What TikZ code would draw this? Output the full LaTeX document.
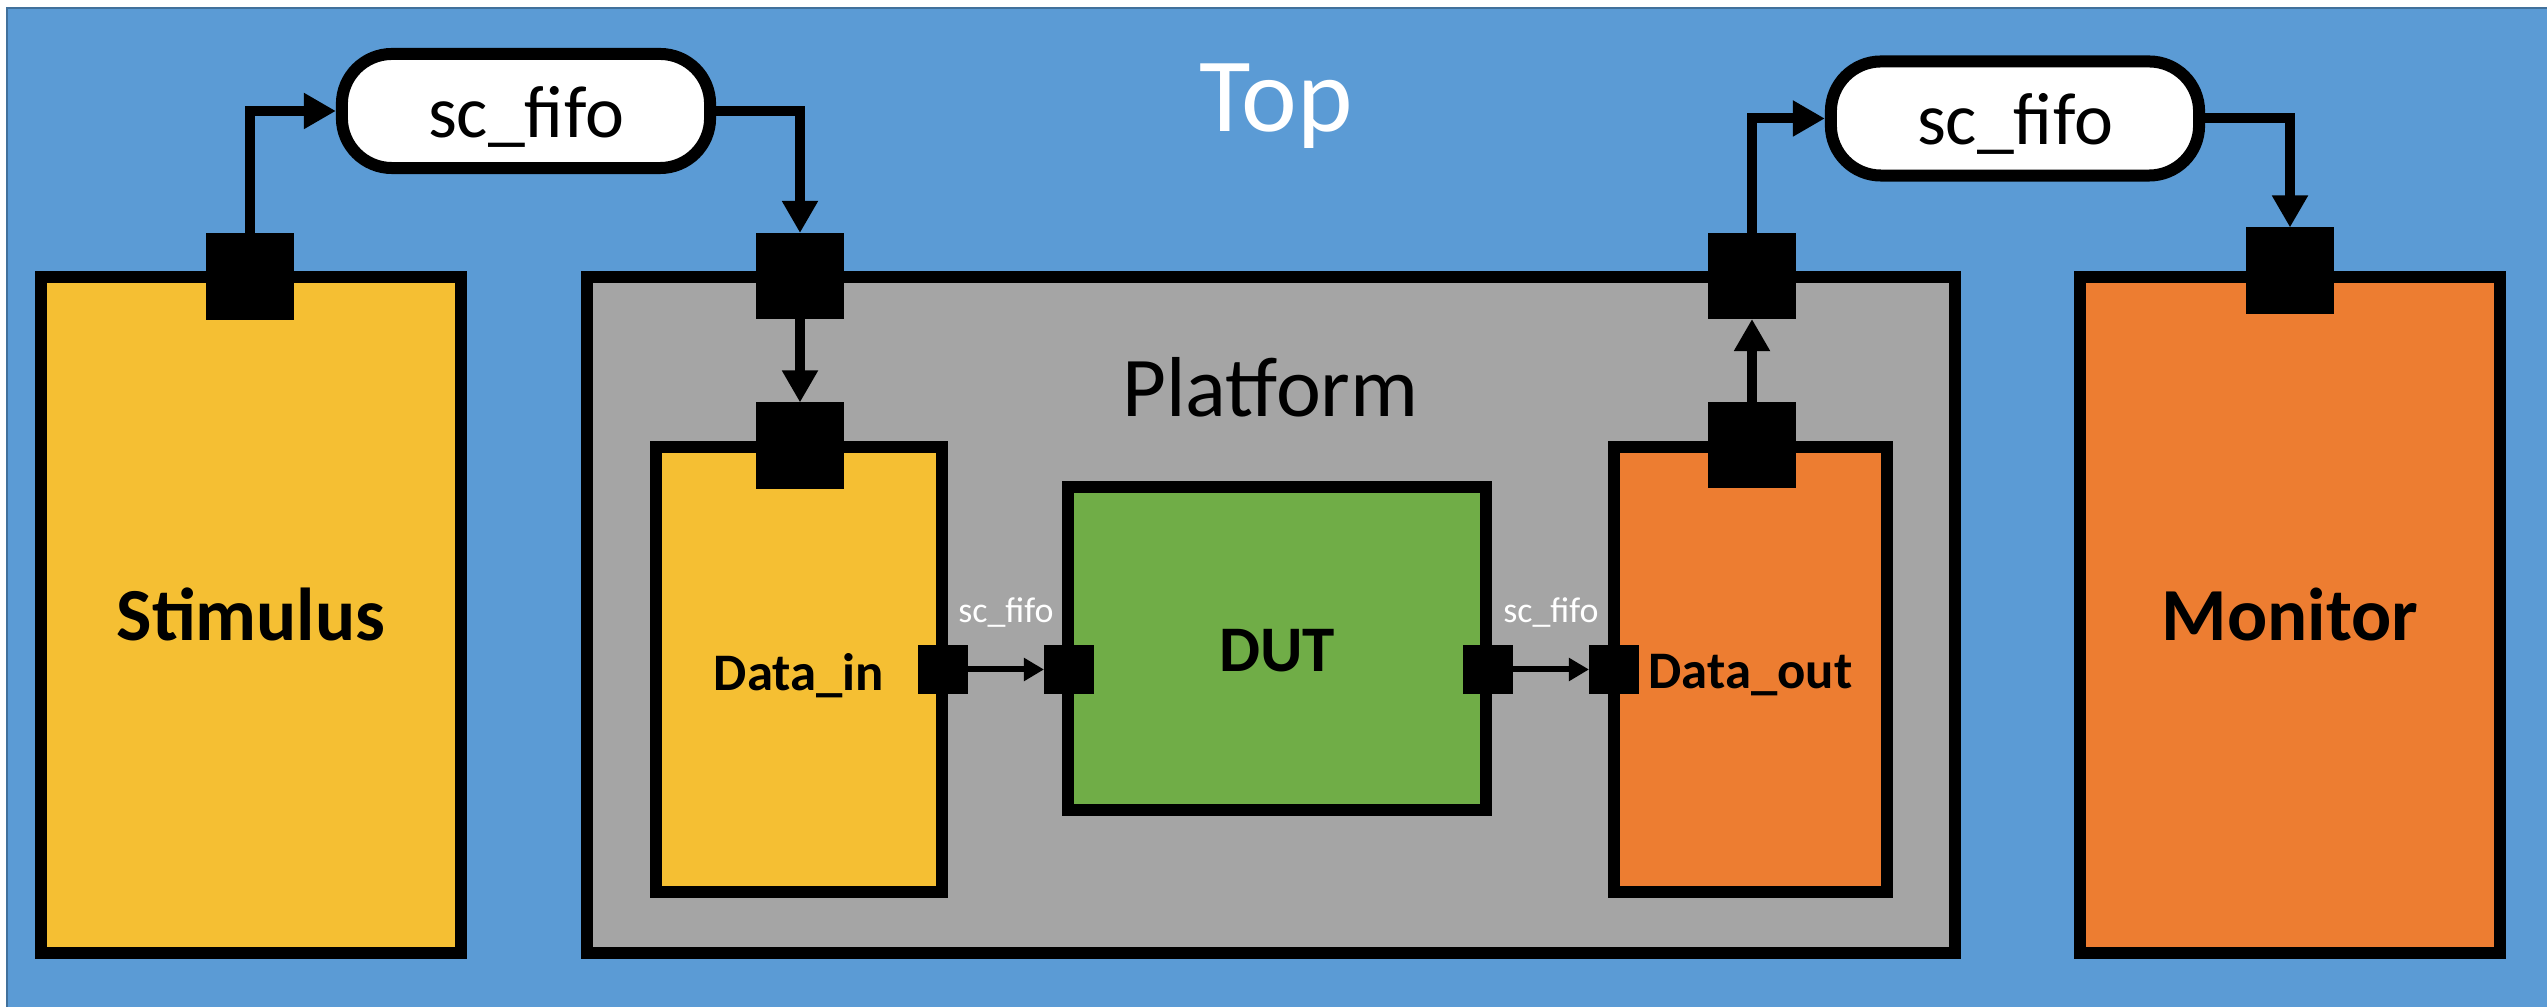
\documentclass[tikz,border=0pt]{standalone}
\usepackage{fontspec}
\setmainfont{Carlito}
\usetikzlibrary{arrows.meta}
\definecolor{topblue}{HTML}{5B9BD5}
\definecolor{topedge}{HTML}{41719C}
\definecolor{stimy}{HTML}{F5BF33}
\definecolor{platg}{HTML}{A5A5A5}
\definecolor{dutg}{HTML}{70AD47}
\definecolor{mono}{HTML}{ED7D31}
\newcommand\setfs[1]{\fontsize{#1}{#1}\selectfont}
\tikzset{
  block/.style={draw=black, line width=0.12cm, inner sep=0pt, align=center},
  bigport/.style={fill=black, inner sep=0pt, outer sep=0pt, minimum width=0.88cm, minimum height=0.86cm},
  smallport/.style={fill=black, inner sep=0pt, outer sep=0pt, minimum width=0.50cm, minimum height=0.49cm},
  fifobox/.style={draw=black, fill=white, line width=0.12cm, rounded corners=0.5cm, inner sep=0pt,
    minimum width=3.68cm, minimum height=1.14cm, font=\setfs{21pt}, text height=0.6cm, text depth=0.08cm},
  bigarrow/.style={line width=0.10cm, -{Triangle[length=0.32cm,width=0.34cm]}},
  smallarrow/.style={line width=0.06cm, -{Triangle[length=0.20cm,width=0.22cm]}},
  fifolbl/.style={midway, anchor=base, yshift=0.47cm, text=white, font=\setfs{10.2pt}, inner sep=0pt},
}
\begin{document}
\begin{tikzpicture}[x=0.01cm, y=-0.01cm]
\useasboundingbox (0,0) rectangle (2547,1007);
\fill[white] (0,0) rectangle (2547,1007);
\fill[topblue] (7,8) rectangle (2547,1007);
\draw[topedge, line width=0.02cm] (7,1007) -- (7,8) -- (2547,8);

\node[font=\setfs{30pt}, text=white, anchor=base, inner sep=0pt] (toplbl) at (1276,132) {Top};

% blocks
\node[block, fill=stimy, minimum width=4.20cm, minimum height=6.76cm,
      font=\bfseries\setfs{21.3pt}, text height=0.5cm, text depth=0cm] (stim) at (251,615) {Stimulus};
\node[block, fill=platg, minimum width=13.68cm, minimum height=6.76cm] (plat) at (1271,615) {};
\node[block, fill=mono, minimum width=4.20cm, minimum height=6.76cm,
      font=\bfseries\setfs{21.3pt}, text height=0.5cm, text depth=0cm] (mon) at (2290,615) {Monitor};
\node[font=\setfs{24.2pt}, anchor=base, inner sep=0pt] (platlbl) at (1270.5,417) {Platform};
\node[block, fill=stimy, minimum width=2.86cm, minimum height=4.45cm,
      font=\bfseries\setfs{15pt}, text height=0.41cm, text depth=0cm] (din) at (799,669.5) {Data\_in};
\node[block, fill=mono, minimum width=2.73cm, minimum height=4.45cm,
      font=\bfseries\setfs{15pt}, text height=0.37cm, text depth=0cm] (dout) at (1750.5,669.5) {Data\_out};
\node[block, fill=dutg, minimum width=4.18cm, minimum height=3.23cm,
      font=\bfseries\setfs{18.5pt}, text height=0.45cm, text depth=0cm] (dut) at (1277,648.5) {DUT};

% ports
\node[bigport] (stp) at (250,276.5) {};
\node[bigport] (pinp) at (800,276) {};
\node[bigport] (dinp) at (800,445.5) {};
\node[bigport] (poutp) at (1752,276) {};
\node[bigport] (doutp) at (1752,445) {};
\node[bigport] (monp) at (2290,270.5) {};
\node[smallport] (dinr) at (943,669.5) {};
\node[smallport] (dutl) at (1069,669.5) {};
\node[smallport] (dutr) at (1488,669.5) {};
\node[smallport] (doutl) at (1614,669.5) {};

% fifos
\node[fifobox] (fifo1) at (526,111) {sc\_fifo};
\node[fifobox] (fifo2) at (2015,118.5) {sc\_fifo};

% connectors
\draw[bigarrow] (stp.north) |- (fifo1.west);
\draw[bigarrow] (fifo1.east) -| (pinp.north);
\draw[bigarrow] (pinp.south) -- (dinp.north);
\draw[smallarrow] (dinr.east) -- node[fifolbl] (lbl1) {sc\_fifo} (dutl.west);
\draw[smallarrow] (dutr.east) -- node[fifolbl] (lbl2) {sc\_fifo} (doutl.west);
\draw[bigarrow] (doutp.north) -- (poutp.south);
\draw[bigarrow] (poutp.north) |- (fifo2.west);
\draw[bigarrow] (fifo2.east) -| (monp.north);
\end{tikzpicture}
\end{document}
